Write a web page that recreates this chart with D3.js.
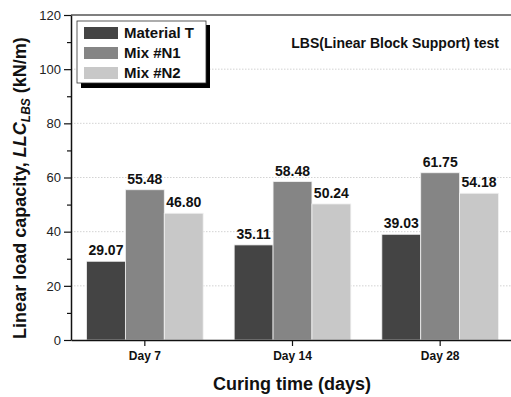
<!DOCTYPE html>
<html>
<head>
<meta charset="utf-8">
<script src="https://cdn.jsdelivr.net/npm/d3@7"></script>
<style>
  body { margin: 0; background: #fff; }
  svg { display: block; font-family: "Liberation Sans", Arial, sans-serif; }
</style>
</head>
<body>
<div id="chart"></div>
<script>
//data
var days = ["Day 7", "Day 14", "Day 28"];
var series = ["Material T", "Mix #N1", "Mix #N2"];
var materialT = [29.07, 35.11, 39.03];
var mixN1 = [55.48, 58.48, 61.75];
var mixN2 = [46.80, 50.24, 54.18];
var yTicks = [0, 20, 40, 60, 80, 100, 120];
var yMinor = [10, 30, 50, 70, 90, 110];
var colors = ["#444444", "#858585", "#c8c8c8"];

var values = [materialT, mixN1, mixN2];

//plot area (note: "top" is a reserved window prop, so use plot* names)
var W = 511, H = 397;
var plotLeft = 71, plotTop = 15, plotBottom = 340, plotRight = 514;

var svg = d3.select("#chart").append("svg")
    .attr("width", W).attr("height", H);

//scales
var y = d3.scaleLinear().domain([0, 120]).range([plotBottom, plotTop]);
var x0 = d3.scaleBand().domain(days).range([plotLeft, plotRight])
    .paddingInner(0.21).paddingOuter(0.105);
var x1 = d3.scaleBand().domain(series).range([0, x0.bandwidth()]);

//grid lines
svg.append("g").selectAll("line")
    .data(yTicks.filter(function(d) { return d > 0 && d < 120; }))
  .enter().append("line")
    .attr("x1", plotLeft).attr("x2", W)
    .attr("y1", function(d) { return y(d); })
    .attr("y2", function(d) { return y(d); })
    .attr("stroke", "#c8c8c8")
    .attr("stroke-width", 0.8)
    .attr("stroke-dasharray", "1.5,1.5");

//bars
days.forEach(function(day, i) {
  var g = svg.append("g").attr("transform", "translate(" + x0(day) + ",0)");
  series.forEach(function(s, j) {
    var v = values[j][i];
    g.append("rect")
      .attr("x", x1(s))
      .attr("y", y(v))
      .attr("width", x1.bandwidth())
      .attr("height", y(0) - y(v))
      .attr("fill", colors[j])
      .attr("stroke", "#f2f2f2")
      .attr("stroke-width", 0.8);
    g.append("text")
      .attr("x", x1(s) + x1.bandwidth() / 2)
      .attr("y", y(v) - 6)
      .attr("text-anchor", "middle")
      .attr("font-size", 14)
      .attr("font-weight", "bold")
      .attr("fill", "#111")
      .text(v.toFixed(2));
  });
});

//top frame line
svg.append("line")
    .attr("x1", plotLeft).attr("x2", W)
    .attr("y1", plotTop).attr("y2", plotTop)
    .attr("stroke", "#555").attr("stroke-width", 1.5);

//y axis
var yAxis = svg.append("g")
    .attr("transform", "translate(" + plotLeft + ",0)")
    .call(d3.axisLeft(y).tickValues(yTicks).tickSize(7).tickPadding(3).tickSizeOuter(0));
yAxis.select(".domain").attr("stroke", "#111").attr("stroke-width", 1.5);
yAxis.selectAll(".tick line").attr("stroke", "#111").attr("stroke-width", 1.2);
yAxis.selectAll(".tick text")
    .attr("font-size", 13).attr("fill", "#222")
    .attr("font-family", "Liberation Sans, Arial, sans-serif");
svg.append("g")
    .attr("transform", "translate(" + plotLeft + ",0)")
    .call(d3.axisLeft(y).tickValues(yMinor).tickSize(4).tickFormat(""))
    .call(function(g) {
      g.select(".domain").remove();
      g.selectAll(".tick line").attr("stroke", "#111").attr("stroke-width", 1.2);
    });

//x axis
var xAxis = svg.append("g")
    .attr("transform", "translate(0," + plotBottom + ")")
    .call(d3.axisBottom(x0).tickSize(6).tickPadding(5).tickSizeOuter(0));
xAxis.select(".domain").attr("stroke", "#111").attr("stroke-width", 1.5);
xAxis.selectAll(".tick line").attr("stroke", "#111").attr("stroke-width", 1.2);
xAxis.selectAll(".tick text")
    .attr("font-size", 12).attr("font-weight", "bold").attr("fill", "#111")
    .attr("font-family", "Liberation Sans, Arial, sans-serif");

//axis titles
svg.append("text")
    .attr("x", 292).attr("y", 390)
    .attr("text-anchor", "middle")
    .attr("font-size", 18).attr("font-weight", "bold").attr("fill", "#111")
    .text("Curing time (days)");

var yl = svg.append("text")
    .attr("transform", "translate(26,188) rotate(-90)")
    .attr("text-anchor", "middle")
    .attr("font-size", 18).attr("font-weight", "bold").attr("fill", "#111");
yl.append("tspan").text("Linear load capacity, ");
yl.append("tspan").attr("font-style", "italic").text("LLC");
yl.append("tspan").attr("font-style", "italic").attr("font-size", 12).attr("dy", 4).text("LBS");
yl.append("tspan").attr("dy", -4).text(" (kN/m)");

//chart title
svg.append("text")
    .attr("x", 499).attr("y", 48)
    .attr("text-anchor", "end")
    .attr("font-size", 14).attr("font-weight", "bold").attr("fill", "#111")
    .text("LBS(Linear Block Support) test");

//legend
var lg = svg.append("g");
lg.append("rect").attr("x", 81).attr("y", 25).attr("width", 129).attr("height", 63).attr("fill", "#000");
lg.append("rect").attr("x", 77).attr("y", 21).attr("width", 129).attr("height", 62)
    .attr("fill", "#fff").attr("stroke", "#333").attr("stroke-width", 0.8);
series.forEach(function(s, j) {
  lg.append("rect")
    .attr("x", 84).attr("y", 27 + j * 20)
    .attr("width", 34).attr("height", 12)
    .attr("fill", colors[j]);
  lg.append("text")
    .attr("x", 124).attr("y", 38 + j * 20)
    .attr("font-size", 15).attr("font-weight", "bold").attr("fill", "#111")
    .text(s);
});
</script>
</body>
</html>
